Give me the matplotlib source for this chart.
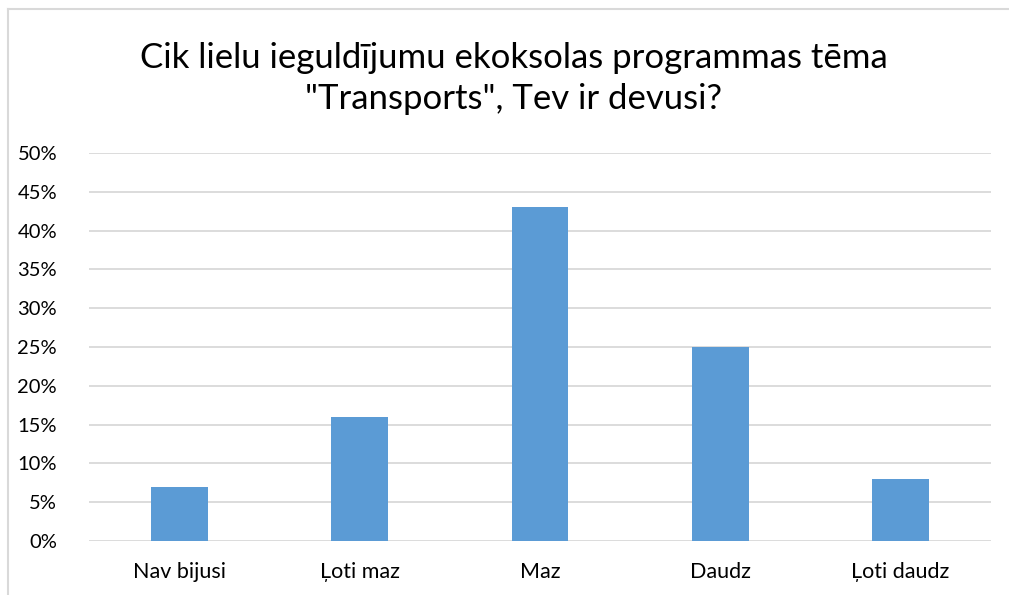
import matplotlib
matplotlib.use("Agg")
import matplotlib.pyplot as plt
from matplotlib.ticker import PercentFormatter, MultipleLocator
from matplotlib.lines import Line2D

categories = ["Nav bijusi", "Ļoti maz", "Maz", "Daudz", "Ļoti daudz"]
values = [0.07, 0.16, 0.43, 0.25, 0.08]
title = 'Cik lielu ieguldījumu ekoksolas programmas tēma\n"Transports", Tev ir devusi?'

plt.rcParams['font.family'] = ['Lato', 'DejaVu Sans']

fig = plt.figure(figsize=(10.09, 5.95), dpi=100)
ax = fig.add_axes([0.0882, 0.0908, 0.8938, 0.6522])

x = range(len(categories))
ax.bar(x, values, width=0.315, color="#5B9BD5", zorder=3)
ax.set_xlim(-0.5, len(categories) - 0.5)
ax.set_ylim(0, 0.5)
ax.yaxis.set_major_locator(MultipleLocator(0.05))
ax.yaxis.set_major_formatter(PercentFormatter(1.0, decimals=0))
ax.set_xticks(list(x))
ax.set_xticklabels(categories)
ax.grid(axis="y", color="#D9D9D9", linewidth=1.3, zorder=0)
for s in ax.spines.values():
    s.set_visible(False)
ax.tick_params(axis="both", length=0, colors="#000000")
ax.tick_params(axis="x", labelsize=15.5, pad=15)
ax.tick_params(axis="y", labelsize=14.5, pad=23)

fig.text(0.509, 0.868, title, ha="center", va="center", fontsize=25, linespacing=1.38)

# outer chart border (left and top visible)
x0 = 8 / 1009
y0 = 1 - 9 / 595
fig.add_artist(Line2D([x0, x0], [0, y0], transform=fig.transFigure, color="#D9D9D9", linewidth=1.5))
fig.add_artist(Line2D([x0, 1], [y0, y0], transform=fig.transFigure, color="#D9D9D9", linewidth=1.5))

fig.savefig("out.png", dpi=100)
